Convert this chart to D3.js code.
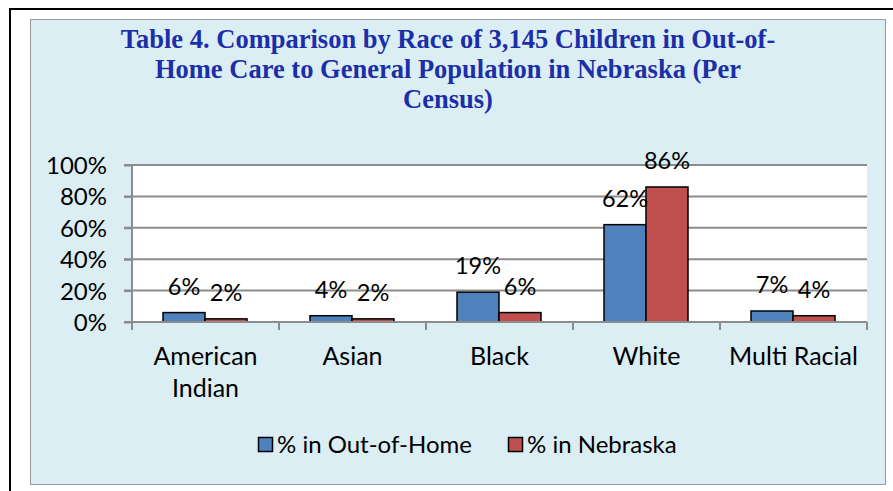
<!DOCTYPE html>
<html>
<head>
<meta charset="utf-8">
<script src="https://cdn.jsdelivr.net/npm/d3@7"></script>
<style>
  html, body { margin: 0; padding: 0; background: #fff; }
  svg { display: block; }
</style>
</head>
<body>
<svg id="chart" width="893" height="491"></svg>
<script>
const categories = [["American", "Indian"], ["Asian"], ["Black"], ["White"], ["Multi Racial"]];
const categoryKeys = ["American Indian", "Asian", "Black", "White", "Multi Racial"];
const seriesNames = ["% in Out-of-Home", "% in Nebraska"];
const outOfHome = [6, 4, 19, 62, 7];
const nebraska = [2, 2, 6, 86, 4];
const yTicks = [0, 20, 40, 60, 80, 100];
const titleLines = [
  "Table 4. Comparison by Race of 3,145 Children in Out-of-",
  "Home Care to General Population in Nebraska (Per",
  "Census)"
];
const colors = ["#4F81BD", "#C0504D"];

const svg = d3.select("#chart");
const font = "Lato, 'Noto Sans', sans-serif";

// Outer page border
svg.append("line").attr("x1", 9).attr("x2", 893).attr("y1", 9).attr("y2", 9)
  .attr("stroke", "#000").attr("stroke-width", 2);
svg.append("line").attr("x1", 10).attr("x2", 10).attr("y1", 9).attr("y2", 491)
  .attr("stroke", "#000").attr("stroke-width", 2);

// Chart area background
svg.append("rect").attr("x", 30.5).attr("y", 19.5).attr("width", 855).attr("height", 465)
  .attr("fill", "#DBEEF4").attr("stroke", "#999").attr("stroke-width", 1);

// Title
const title = svg.append("text")
  .attr("x", 448).attr("y", 48)
  .attr("text-anchor", "middle")
  .style("font-family", "'Liberation Serif', 'Times New Roman', Times, serif")
  .attr("font-weight", "bold").attr("font-size", 26.5)
  .attr("fill", "#1C2FA8");
titleLines.forEach((t, i) => {
  title.append("tspan").attr("x", 448).attr("dy", i === 0 ? 0 : 30).text(t);
});

// Scales
const x0 = d3.scaleBand().domain(categoryKeys).range([132, 867]).paddingInner(0).paddingOuter(0);
const y = d3.scaleLinear().domain([0, 100]).range([322, 165]);
const x1 = d3.scaleBand().domain(seriesNames).range([31, 115]).padding(0);

// Plot background
svg.append("rect").attr("x", 132).attr("y", y(100)).attr("width", 867 - 132).attr("height", y(0) - y(100))
  .attr("fill", "#fff");

// Gridlines
svg.append("g").selectAll("line").data(yTicks.filter(d => d > 0)).join("line")
  .attr("x1", 124).attr("x2", 867)
  .attr("y1", d => y(d)).attr("y2", d => y(d))
  .attr("stroke", "#8C8C8C").attr("stroke-width", 2);

// Y axis
const yAxis = svg.append("g").attr("transform", "translate(132,0)")
  .call(d3.axisLeft(y).tickValues(yTicks).tickFormat(d => d + "%").tickSize(8).tickPadding(17));
yAxis.select(".domain").attr("stroke", "#8C8C8C").attr("stroke-width", 2).attr("d", `M-8,${y(100)}H0V${y(0) + 8}`);
yAxis.selectAll(".tick line").attr("stroke", "#8C8C8C").attr("stroke-width", 2);
yAxis.selectAll(".tick text").attr("font-family", font).attr("font-size", 24).attr("fill", "#000").attr("dy", "0.35em");

// Bars
const series = [outOfHome, nebraska];
const groups = svg.append("g").selectAll("g").data(categoryKeys).join("g")
  .attr("transform", d => `translate(${x0(d)},0)`);
groups.selectAll("rect").data((d, i) => seriesNames.map((s, j) => ({ s, v: series[j][i], j }))).join("rect")
  .attr("x", d => x1(d.s)).attr("width", x1.bandwidth())
  .attr("y", d => y(d.v)).attr("height", d => y(0) - y(d.v))
  .attr("fill", d => colors[d.j]).attr("stroke", "#000").attr("stroke-width", 1.5);

// X axis (baseline + category ticks)
const xAxis = svg.append("g").attr("transform", `translate(0,${y(0)})`);
xAxis.append("line").attr("x1", 124).attr("x2", 867).attr("y1", 0).attr("y2", 0)
  .attr("stroke", "#8C8C8C").attr("stroke-width", 2);
const boundaries = categoryKeys.map(k => x0(k)).concat([x0.range()[1]]);
xAxis.selectAll("line.tk").data(boundaries).join("line").attr("class", "tk")
  .attr("x1", d => d).attr("x2", d => d).attr("y1", 0).attr("y2", 8)
  .attr("stroke", "#8C8C8C").attr("stroke-width", 2);

// Category labels
const catText = svg.append("g").selectAll("text").data(categories).join("text")
  .attr("x", (d, i) => x0(categoryKeys[i]) + x0.bandwidth() / 2)
  .attr("y", 365)
  .attr("text-anchor", "middle")
  .attr("font-family", font).attr("font-size", 25).attr("fill", "#000");
catText.each(function(lines) {
  const t = d3.select(this);
  const cx = t.attr("x");
  lines.forEach((l, i) => t.append("tspan").attr("x", cx).attr("dy", i === 0 ? 0 : 32).text(l));
});

// Data labels
groups.selectAll("text").data((d, i) => seriesNames.map((s, j) => ({ s, v: series[j][i], j }))).join("text")
  .attr("x", d => x1(d.s) + x1.bandwidth() / 2)
  .attr("y", d => y(d.v) - 18)
  .attr("text-anchor", "middle")
  .attr("font-family", font).attr("font-size", 23.5).attr("fill", "#000")
  .text(d => d.v + "%");

// Legend
const legend = svg.append("g").attr("transform", "translate(258,437)");
const legendX = [0, 250];
seriesNames.forEach((s, i) => {
  const g = legend.append("g").attr("transform", `translate(${legendX[i]},0)`);
  g.append("rect").attr("x", 0.5).attr("y", 0.5).attr("width", 14).attr("height", 14)
    .attr("fill", colors[i]).attr("stroke", "#000").attr("stroke-width", 1.5);
  g.append("text").attr("x", 19).attr("y", 16).attr("font-family", font).attr("font-size", 24)
    .attr("fill", "#000").text(s);
});
</script>
</body>
</html>
